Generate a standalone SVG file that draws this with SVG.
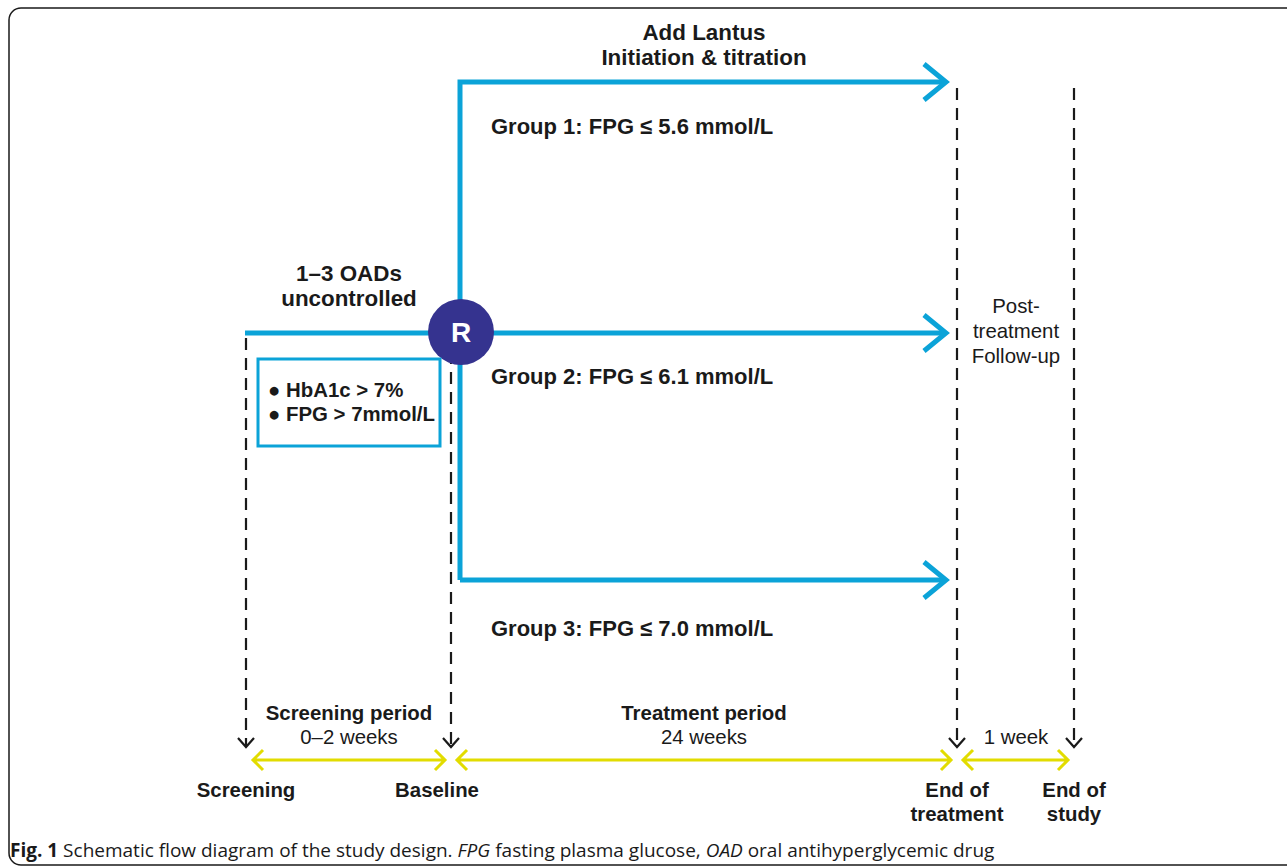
<svg xmlns="http://www.w3.org/2000/svg" width="1287" height="868" viewBox="0 0 1287 868">
<style>
.b{fill:none;stroke:#0ba3d8;stroke-width:5}
.d{fill:none;stroke:#1a1a1a;stroke-width:2.2;stroke-dasharray:12 8}
.dh{fill:none;stroke:#1a1a1a;stroke-width:2.2}
.y{fill:none;stroke:#e2dc00;stroke-width:3}
.t{font-family:"Liberation Sans",Arial,sans-serif;fill:#1a1a1a;font-size:20.4px}
.bold{font-weight:bold}
.m{text-anchor:middle}
.g{font-size:22px}
.h{font-size:22.4px}
</style>
<rect x="9" y="8" width="1300" height="857" rx="12" fill="#fff" stroke="#1a1a1a" stroke-width="1.5"/>
<g id="connectors">
  <path class="b" d="M245 333H440"/>
  <path class="b" d="M460 580V82H945M460 333H945M460 580H945"/>
  <path class="b" d="M924 64L946 82L924 100M924 315L946 333L924 351M924 562L946 580L924 598"/>
  <path class="d" d="M246 338V746M451 352V746M957 88V746M1074 88V746"/>
  <path class="dh" d="M238 738L246 747L254 738M443 738L451 747L459 738M949 738L957 747L965 738M1066 738L1074 747L1082 738"/>
  <path class="y" d="M253 760H445M263 750L253 760L263 770M435 750L445 760L435 770"/>
  <path class="y" d="M457 760H951M467 750L457 760L467 770M941 750L951 760L941 770"/>
  <path class="y" d="M963 760H1068M973 750L963 760L973 770M1058 750L1068 760L1058 770"/>
</g>
<g id="node-R">
  <circle cx="461" cy="332" r="33" fill="#35338f"/>
  <text class="t bold m" x="461" y="342" style="fill:#fff;font-size:28px">R</text>
</g>
<g id="node-criteria">
  <rect x="258" y="359" width="182" height="87" fill="none" stroke="#0ba3d8" stroke-width="3"/>
  <text class="t bold" x="268" y="397">● HbA1c &gt; 7%</text>
  <text class="t bold" x="268" y="421">● FPG &gt; 7mmol/L</text>
</g>
<g id="node-oads">
  <text class="t bold m h" x="349" y="281">1–3 OADs</text>
  <text class="t bold m h" x="349" y="306">uncontrolled</text>
</g>
<g id="node-lantus">
  <text class="t bold m h" x="704" y="40">Add Lantus</text>
  <text class="t bold m h" x="704" y="65">Initiation &amp; titration</text>
</g>
<g id="node-group1"><text class="t bold g" x="491" y="134">Group 1: FPG ≤ 5.6 mmol/L</text></g>
<g id="node-group2"><text class="t bold g" x="491" y="384">Group 2: FPG ≤ 6.1 mmol/L</text></g>
<g id="node-group3"><text class="t bold g" x="491" y="636">Group 3: FPG ≤ 7.0 mmol/L</text></g>
<g id="node-followup">
  <text class="t m" x="1016" y="313">Post-</text>
  <text class="t m" x="1016" y="338">treatment</text>
  <text class="t m" x="1016" y="363">Follow-up</text>
</g>
<g id="node-screening-period">
  <text class="t bold m" x="349" y="720">Screening period</text>
  <text class="t m" x="349" y="744">0–2 weeks</text>
</g>
<g id="node-treatment-period">
  <text class="t bold m" x="704" y="720">Treatment period</text>
  <text class="t m" x="704" y="744">24 weeks</text>
</g>
<g id="node-week"><text class="t m" x="1016" y="744">1 week</text></g>
<g id="node-screening"><text class="t bold m" x="246" y="797">Screening</text></g>
<g id="node-baseline"><text class="t bold m" x="437" y="797">Baseline</text></g>
<g id="node-eot">
  <text class="t bold m" x="957" y="797">End of</text>
  <text class="t bold m" x="957" y="821">treatment</text>
</g>
<g id="node-eos">
  <text class="t bold m" x="1074" y="797">End of</text>
  <text class="t bold m" x="1074" y="821">study</text>
</g>
<text x="10" y="857" font-family="'Open Sans','Liberation Sans',sans-serif" font-size="19" fill="#1a1a1a"><tspan font-weight="bold">Fig. 1</tspan> Schematic flow diagram of the study design. <tspan font-style="italic">FPG</tspan> fasting plasma glucose, <tspan font-style="italic">OAD</tspan> oral antihyperglycemic drug</text>
</svg>
